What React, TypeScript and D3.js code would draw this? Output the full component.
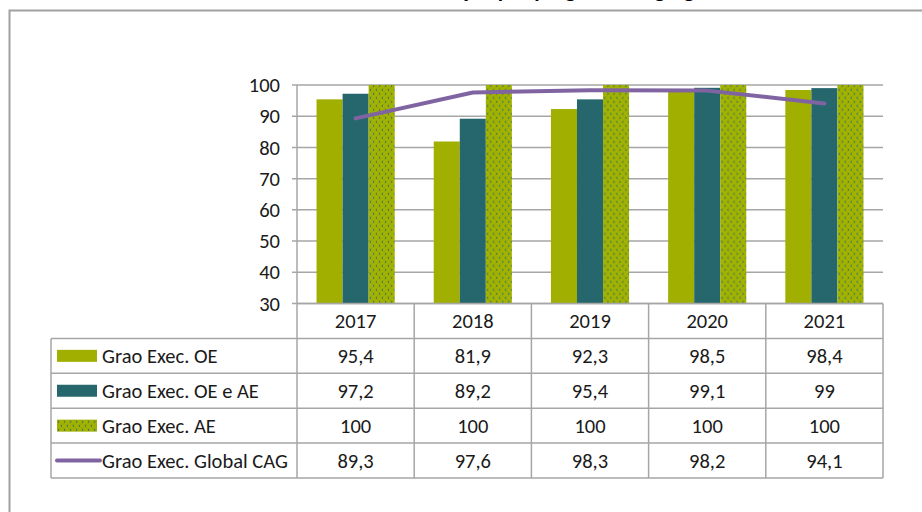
import React from "react";
import * as d3 from "d3";

const categories = ["2017", "2018", "2019", "2020", "2021"];
const seriesNames = ["Grao Exec. OE", "Grao Exec. OE e AE", "Grao Exec. AE", "Grao Exec. Global CAG"];
const oe = [95.4, 81.9, 92.3, 98.5, 98.4];
const oeAe = [97.2, 89.2, 95.4, 99.1, 99];
const ae = [100, 100, 100, 100, 100];
const globalCag = [89.3, 97.6, 98.3, 98.2, 94.1];
const yTicks = [30, 40, 50, 60, 70, 80, 90, 100];
const titleText = "Grau de execução por programa e agregado";

const W = 922;
const H = 512;
const FONT = "Carlito, Calibri, Lato, 'Open Sans', sans-serif";
const FS = 20.5;
const C_OE = "#A0AF00";
const C_OEAE = "#25676C";
const C_LINE = "#8064A2";
const C_GRID = "#A6A6A6";
const C_TEXT = "#1a1a1a";

const fmt = (v: number) => String(v).replace(".", ",");

export default function App() {
  const plotLeft = 297;
  const plotRight = 883;
  const plotTop = 85;
  const plotBottom = 303.5;
  const legLeft = 51;
  const rowH = 34.9;

  const x = d3.scaleBand<string>().domain(categories).range([plotLeft, plotRight]).padding(0);
  const y = d3.scaleLinear().domain([30, 100]).range([plotBottom, plotTop]);
  const barSeries = [oe, oeAe, ae];
  const x1 = d3
    .scaleBand<number>()
    .domain([0, 1, 2])
    .range([0, x.bandwidth()])
    .paddingInner(0)
    .paddingOuter(0.75);
  const fills = [C_OE, C_OEAE, "url(#aePattern)"];

  const line = d3
    .line<number>()
    .x((_, i) => (x(categories[i]) as number) + x.bandwidth() / 2)
    .y((d) => y(d));

  const tableRows = [oe, oeAe, ae, globalCag];
  const rowTop = (r: number) => plotBottom + rowH * r; // r=0 header
  const tableBottom = rowTop(5);

  return (
    <svg
      width={W}
      height={H}
      style={{ position: "absolute", left: 0, top: 0, background: "#fff" }}
      fontFamily={FONT}
    >
      <defs>
        <pattern id="aePattern" patternUnits="userSpaceOnUse" width={6} height={8}>
          <rect width={6} height={8} fill="#A3B200" />
          <path d="M2.2,0.6 L0.8,1.8 L2.2,3" fill="none" stroke="#2F7464" strokeWidth={0.9} />
          <path d="M3.8,4.6 L5.2,5.8 L3.8,7" fill="none" stroke="#2F7464" strokeWidth={0.9} />
        </pattern>
      </defs>
      <rect x={0} y={0} width={W} height={H} fill="#fff" />
      {/* title mostly cut off above, as in the reference */}
      <text x={530} y={-3} textAnchor="middle" fontSize={22} fontWeight="bold" fill="#000">
        {titleText}
      </text>
      {/* outer chart border */}
      <rect x={9.5} y={10.5} width={W + 10} height={H + 10} fill="none" stroke="#A0A0A0" strokeWidth={2} />

      {/* gridlines */}
      {yTicks.map((t) => (
        <line key={"g" + t} x1={plotLeft - 5} x2={plotRight} y1={y(t)} y2={y(t)} stroke={C_GRID} strokeWidth={1.5} />
      ))}

      {/* bars */}
      {categories.map((c, i) => (
        <g key={c} transform={`translate(${x(c)},0)`}>
          {barSeries.map((s, k) => (
            <rect
              key={k}
              x={x1(k)}
              y={y(s[i])}
              width={x1.bandwidth()}
              height={y(30) - y(s[i])}
              fill={fills[k]}
            />
          ))}
        </g>
      ))}

      {/* line */}
      <path d={line(globalCag) || ""} fill="none" stroke={C_LINE} strokeWidth={4} strokeLinecap="round" strokeLinejoin="round" />

      {/* y axis */}
      <line x1={plotLeft} x2={plotLeft} y1={plotTop} y2={plotBottom} stroke={C_GRID} strokeWidth={1.5} />
      {yTicks.map((t) => (
        <text key={"t" + t} x={280} y={y(t)} dy="0.35em" textAnchor="end" fontSize={FS} fill={C_TEXT}>
          {t}
        </text>
      ))}

      {/* data table */}
      <g stroke={C_GRID} strokeWidth={1.5}>
        <line x1={plotLeft} x2={plotRight} y1={rowTop(0)} y2={rowTop(0)} />
        {[1, 2, 3, 4, 5].map((r) => (
          <line key={"h" + r} x1={legLeft} x2={plotRight} y1={rowTop(r)} y2={rowTop(r)} />
        ))}
        <line x1={legLeft} x2={legLeft} y1={rowTop(1)} y2={tableBottom} />
        {categories.map((c) => (
          <line key={"v" + c} x1={x(c)} x2={x(c)} y1={rowTop(0)} y2={tableBottom} />
        ))}
        <line x1={plotRight} x2={plotRight} y1={rowTop(0)} y2={tableBottom} />
      </g>
      {categories.map((c) => (
        <text
          key={"c" + c}
          x={(x(c) as number) + x.bandwidth() / 2}
          y={rowTop(0) + rowH / 2}
          dy="0.35em"
          textAnchor="middle"
          fontSize={FS}
          fill={C_TEXT}
        >
          {c}
        </text>
      ))}
      {tableRows.map((row, r) => (
        <g key={"r" + r}>
          {r < 3 && (
            <rect x={57} y={rowTop(r + 1) + rowH / 2 - 6} width={40} height={12} fill={fills[r]} />
          )}
          {r === 3 && (
            <line
              x1={57}
              x2={100}
              y1={rowTop(r + 1) + rowH / 2}
              y2={rowTop(r + 1) + rowH / 2}
              stroke={C_LINE}
              strokeWidth={4}
              strokeLinecap="round"
            />
          )}
          <text x={102} y={rowTop(r + 1) + rowH / 2} dy="0.35em" fontSize={FS} fill={C_TEXT}>
            {seriesNames[r]}
          </text>
          {row.map((v, i) => (
            <text
              key={i}
              x={(x(categories[i]) as number) + x.bandwidth() / 2}
              y={rowTop(r + 1) + rowH / 2}
              dy="0.35em"
              textAnchor="middle"
              fontSize={FS}
              fill={C_TEXT}
            >
              {fmt(v)}
            </text>
          ))}
        </g>
      ))}
    </svg>
  );
}
